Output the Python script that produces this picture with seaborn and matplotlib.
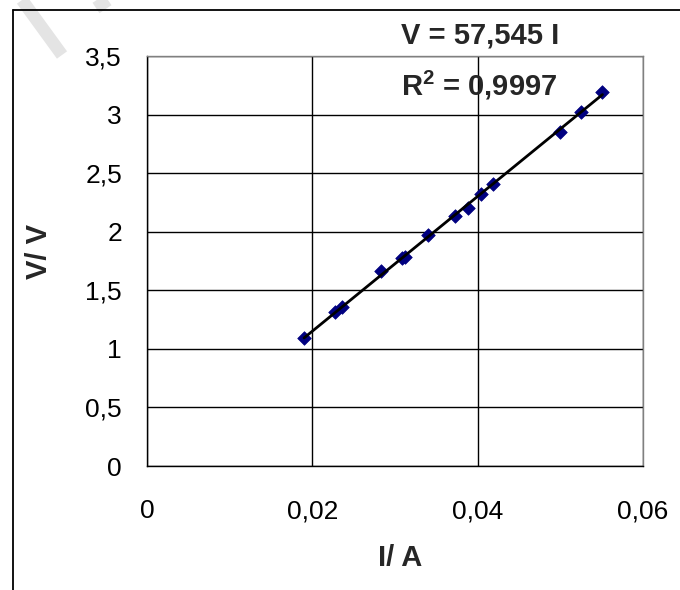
import matplotlib
matplotlib.use("Agg")
import numpy as np
import pandas as pd
import seaborn as sns
import matplotlib.pyplot as plt
from matplotlib.ticker import FuncFormatter, MultipleLocator
from matplotlib.lines import Line2D

# ---------------------------- dados ----------------------------#
corrente = [0.0190, 0.0227, 0.0236, 0.0283, 0.0308, 0.0312, 0.0340,
            0.0373, 0.0388, 0.0404, 0.0418, 0.0499, 0.0525, 0.0551]
tensao = [1.095, 1.317, 1.360, 1.665, 1.776, 1.784, 1.972,
          2.134, 2.202, 2.319, 2.407, 2.848, 3.025, 3.195]
inclinacao = 57.545
texto_eq = "V = 57,545 I"
texto_r2 = r"R$^\mathbf{2}$ = 0,9997"

df = pd.DataFrame({"I": corrente, "V": tensao})

sns.set_style("white")
plt.rcParams["font.family"] = ["Liberation Sans", "DejaVu Sans"]
plt.rcParams["mathtext.fontset"] = "custom"
plt.rcParams["mathtext.rm"] = "Liberation Sans"
plt.rcParams["mathtext.bf"] = "Liberation Sans:bold"

fig = plt.figure(figsize=(6.8, 5.9), dpi=100)
ax = fig.add_axes([147 / 680, 1 - 466 / 590, 496 / 680, 410 / 590])

# linha de tendencia (passa pela origem)
x_fit = np.array([df["I"].min(), df["I"].max()])
ax.plot(x_fit, inclinacao * x_fit, color="black", lw=2.0, zorder=4)

# pontos
sns.scatterplot(data=df, x="I", y="V", marker="D", s=48, color="#000080",
                edgecolor="#000080", linewidth=0.5, ax=ax, zorder=3)

ax.set_xlim(0, 0.06)
ax.set_ylim(0, 3.5)
ax.xaxis.set_major_locator(MultipleLocator(0.02))
ax.yaxis.set_major_locator(MultipleLocator(0.5))
virgula = FuncFormatter(lambda v, p: f"{v:g}".replace(".", ","))
ax.xaxis.set_major_formatter(virgula)
ax.yaxis.set_major_formatter(virgula)

ax.grid(True, color="black", lw=1.0)
ax.set_axisbelow(True)
for lado in ["left", "bottom"]:
    ax.spines[lado].set_color("black")
    ax.spines[lado].set_linewidth(1.0)
for lado in ["top", "right"]:
    ax.spines[lado].set_color("#808080")
    ax.spines[lado].set_linewidth(1.0)

ax.tick_params(axis="both", direction="out", length=8, width=1.0,
               color="black", labelsize=19, labelcolor="black")
ax.tick_params(axis="x", pad=16)
ax.tick_params(axis="y", pad=10)

ax.set_xlabel("I/ A", fontsize=21, fontweight="bold")
ax.set_ylabel("V/ V", fontsize=21, fontweight="bold")
ax.xaxis.set_label_coords(0.51, -0.19)
ax.yaxis.set_label_coords(-0.19, 0.524)

fig.text(401 / 680, 1 - 36 / 590, texto_eq, fontsize=21, fontweight="bold",
         va="center", ha="left")
fig.text(401 / 680, 1 - 85 / 590, texto_r2, fontsize=21, fontweight="bold",
         va="center", ha="left")

# moldura externa e marca d'agua
fig.add_artist(Line2D([13 / 680, 13 / 680], [0, 1 - 10 / 590], color="black", lw=1.3))
fig.add_artist(Line2D([13 / 680, 1], [1 - 10 / 590, 1 - 10 / 590], color="black", lw=1.3))
fig.add_artist(Line2D([22 / 680, 62 / 680], [1, 1 - 55 / 590], color="#e4e4e4",
                      lw=9, solid_capstyle="butt", zorder=0))
fig.add_artist(Line2D([108 / 680, 96 / 680], [1, 1 - 8 / 590], color="#e4e4e4",
                      lw=9, solid_capstyle="butt", zorder=0))

fig.savefig("out.png", dpi=100)
